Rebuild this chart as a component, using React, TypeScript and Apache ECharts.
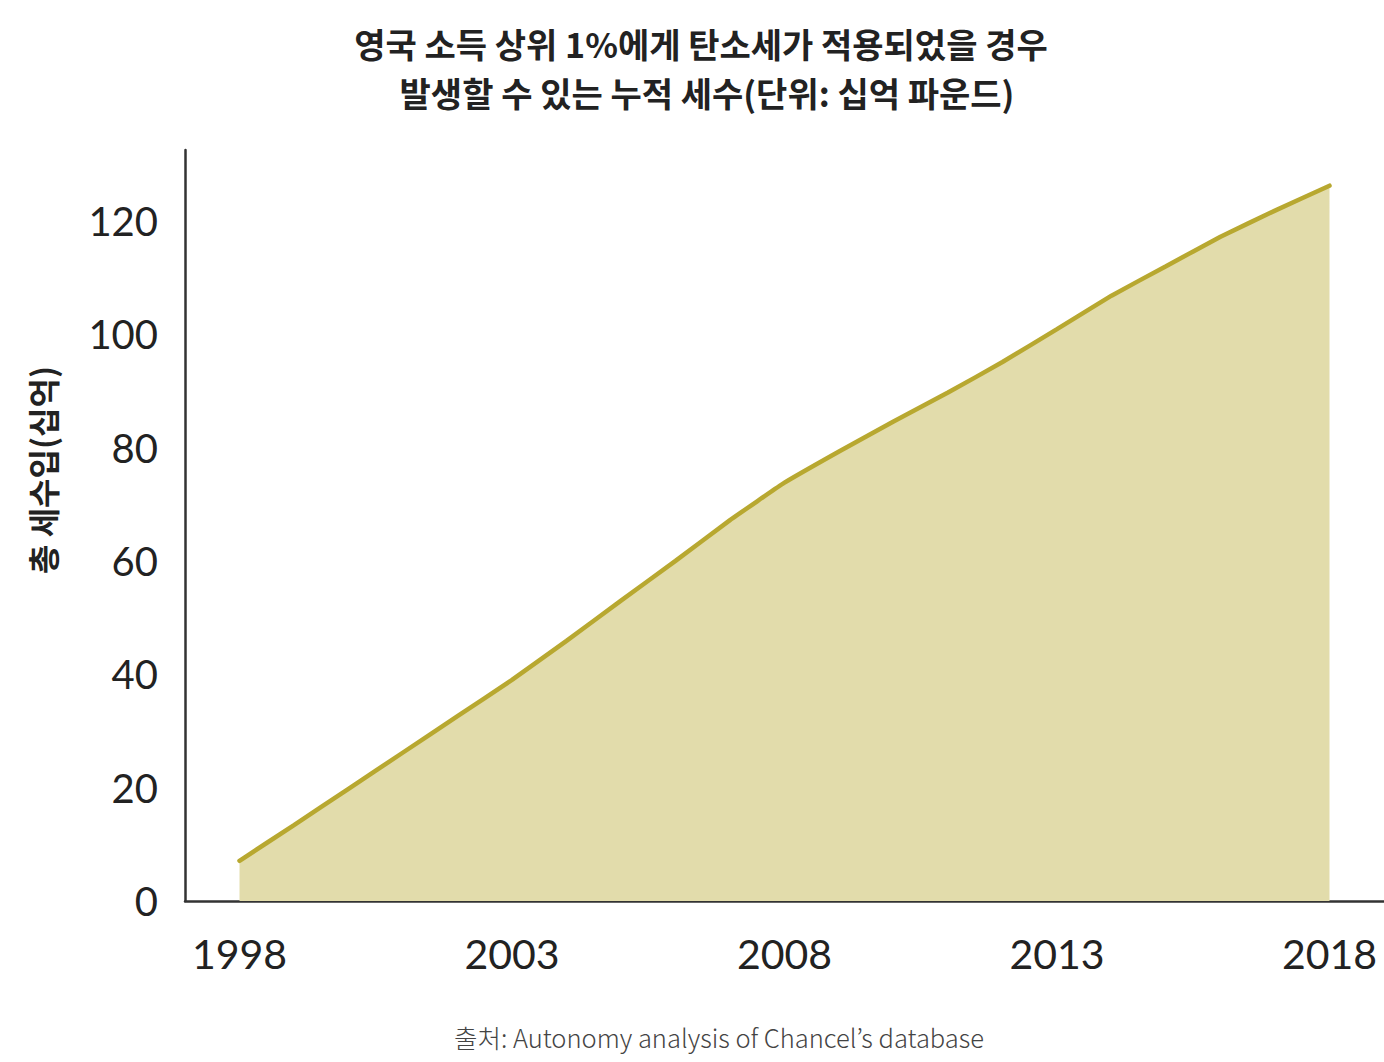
import React, { useEffect, useRef } from "react";
import * as echarts from "echarts";

const titleLines = [
  "영국 소득 상위 1%에게 탄소세가 적용되었을 경우",
  "발생할 수 있는 누적 세수(단위: 십억 파운드)",
];
const yAxisTitle = "총 세수입(십억)";
const sourceText = "출처: Autonomy analysis of Chancel’s database";

const years = [
  1998, 1999, 2000, 2001, 2002, 2003, 2004, 2005, 2006, 2007, 2008,
  2009, 2010, 2011, 2012, 2013, 2014, 2015, 2016, 2017, 2018,
];
const revenue = [
  7.1, 13.4, 19.8, 26.2, 32.6, 39.0, 45.9, 53.0, 60.0, 67.2, 73.8,
  79.3, 84.6, 89.7, 95.1, 100.9, 106.8, 112.0, 117.2, 121.8, 126.2,
];
const xTickLabels = [1998, 2003, 2008, 2013, 2018];

export default function App() {
  const ref = useRef<HTMLDivElement>(null);
  useEffect(() => {
    if (!ref.current) return;
    const chart = echarts.init(ref.current, null, { renderer: "svg" });
    chart.setOption({
      animation: false,
      backgroundColor: "#ffffff",
      grid: {
        left: 185,
        right: 0,
        top: 150,
        bottom: 161,
        containLabel: false,
        outerBoundsMode: "none",
      },
      xAxis: {
        type: "value",
        min: 1997,
        max: 2019,
        axisLine: { show: true, lineStyle: { color: "#333333", width: 2.5 } },
        axisTick: { show: false },
        splitLine: { show: false },
        axisLabel: {
          customValues: xTickLabels,
          formatter: (v: number) => String(v),
          fontFamily: "Lato, sans-serif",
          fontSize: 41,
          color: "#222222",
          margin: 32,
        },
      },
      yAxis: {
        type: "value",
        min: 0,
        max: 132.5,
        interval: 20,
        axisLine: { show: true, lineStyle: { color: "#333333", width: 2.5 } },
        axisTick: { show: false },
        splitLine: { show: false },
        axisLabel: {
          formatter: (v: number) => (v % 20 === 0 ? String(v) : ""),
          fontFamily: "Lato, sans-serif",
          fontSize: 40,
          color: "#222222",
          margin: 27,
        },
      },
      series: [
        {
          type: "line",
          data: years.map((y, i) => [y, revenue[i]]),
          showSymbol: false,
          smooth: 0.1,
          lineStyle: { color: "#b8a830", width: 4.5, cap: "round" },
          areaStyle: { color: "#e2dcab", opacity: 1 },
          z: 2,
        },
      ],
      graphic: [
        {
          type: "text",
          x: 701,
          y: 43,
          style: {
            text: titleLines[0],
            fontFamily: "'Noto Sans CJK KR', sans-serif",
            fontWeight: "bold",
            fontSize: 34,
            fill: "#222222",
            textAlign: "center",
            textVerticalAlign: "middle",
          },
        },
        {
          type: "text",
          x: 707,
          y: 92,
          style: {
            text: titleLines[1],
            fontFamily: "'Noto Sans CJK KR', sans-serif",
            fontWeight: "bold",
            fontSize: 34,
            fill: "#222222",
            textAlign: "center",
            textVerticalAlign: "middle",
          },
        },
        {
          type: "text",
          x: 42,
          y: 470,
          rotation: Math.PI / 2,
          style: {
            text: yAxisTitle,
            fontFamily: "'Noto Sans CJK KR', sans-serif",
            fontWeight: "bold",
            fontSize: 32,
            fill: "#222222",
            textAlign: "center",
            textVerticalAlign: "middle",
          },
        },
        {
          type: "text",
          x: 719,
          y: 1036,
          style: {
            text: sourceText,
            fontFamily: "'Noto Sans CJK KR', sans-serif",
            fontWeight: 300,
            fontSize: 25.5,
            fill: "#444444",
            textAlign: "center",
            textVerticalAlign: "middle",
          },
        },
      ],
    });
    return () => chart.dispose();
  }, []);
  return (
    <div
      ref={ref}
      style={{ position: "fixed", left: 0, top: 0, width: 1384, height: 1062 }}
    />
  );
}
